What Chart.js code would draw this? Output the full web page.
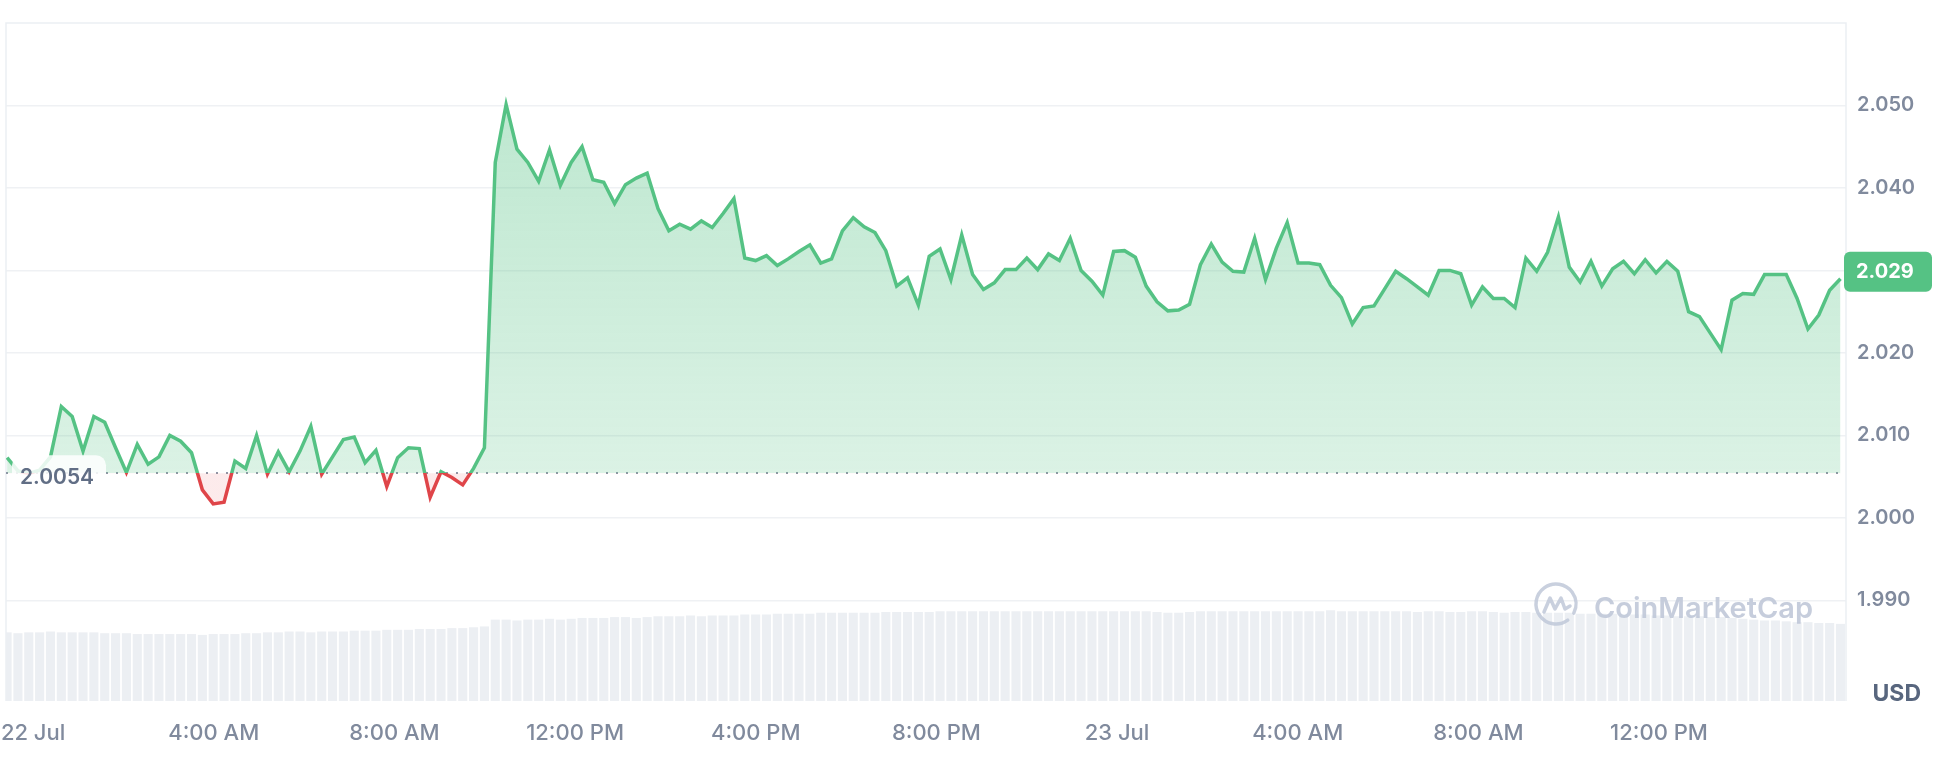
<!DOCTYPE html>
<html>
<head>
<meta charset="utf-8">
<title>Price chart</title>
<script src="https://cdn.jsdelivr.net/npm/chart.js@4.4.0/dist/chart.umd.min.js"></script>
<style>
  body { margin: 0; background: #fff; }
  #wrap { width: 1940px; height: 774px; }
</style>
</head>
<body>
<div id="wrap"><canvas id="priceChart" width="1940" height="774"></canvas></div>
<script>
// price every ~14.4 min, starting a little before 22 Jul 00:00 (hours from 22 Jul 00:00)
const startHour = -0.576;
const stepHours = 0.2402;

const prices = [
  2.0073, 2.0057, 2.0054, 2.0058, 2.0074, 2.0135, 2.0123, 2.0081, 2.0123, 2.0116,
  2.0085, 2.0055, 2.0089, 2.0065, 2.0074, 2.0100, 2.0093, 2.0079, 2.0034, 2.0017,
  2.0019, 2.0069, 2.0060, 2.0100, 2.0053, 2.0080, 2.0056, 2.0081, 2.0111, 2.0053,
  2.0074, 2.0095, 2.0098, 2.0067, 2.0082, 2.0038, 2.0073, 2.0085, 2.0084, 2.0025,
  2.0056, 2.0049, 2.0040, 2.0060, 2.0085,
  2.0431, 2.0501, 2.0447, 2.0431, 2.0408, 2.0446, 2.0403, 2.0431, 2.0450, 2.0410,
  2.0407, 2.0381, 2.0404, 2.0412, 2.0418, 2.0375, 2.0348, 2.0356, 2.0350, 2.0360,
  2.0352, 2.0369, 2.0387, 2.0315, 2.0312, 2.0318, 2.0306, 2.0314, 2.0323, 2.0331,
  2.0309, 2.0314, 2.0348, 2.0364, 2.0353, 2.0346, 2.0324,
  2.0281, 2.0291, 2.0258, 2.0317, 2.0326, 2.0289, 2.0343, 2.0295, 2.0277, 2.0285,
  2.0301, 2.0301, 2.0315, 2.0301, 2.0320, 2.0312, 2.0339, 2.0300, 2.0287, 2.0270,
  2.0323, 2.0324, 2.0316, 2.0281, 2.0262, 2.0251, 2.0252, 2.0259, 2.0307, 2.0332,
  2.0310, 2.0299, 2.0298, 2.0339, 2.0289, 2.0327, 2.0358, 2.0309,
  2.0309, 2.0307, 2.0282, 2.0267, 2.0235, 2.0255, 2.0257, 2.0278, 2.0299, 2.0290,
  2.0280, 2.0270, 2.0300, 2.0300, 2.0296, 2.0258, 2.0280, 2.0266, 2.0266, 2.0255,
  2.0315, 2.0299, 2.0322, 2.0365, 2.0304, 2.0286, 2.0311, 2.0281, 2.0302, 2.0311,
  2.0296, 2.0313, 2.0297, 2.0311, 2.0299, 2.0250, 2.0244, 2.0224, 2.0204, 2.0264,
  2.0272, 2.0271, 2.0295, 2.0295, 2.0295, 2.0266, 2.0229, 2.0246, 2.0276, 2.0290
];

// volume, millions USD
const volumes = [
  8.1, 8.0, 8.1, 8.1, 8.2, 8.1, 8.1, 8.1, 8.1, 8.0,
  8.0, 8.0, 7.9, 7.9, 7.9, 7.9, 7.9, 7.9, 7.8, 7.9,
  7.9, 7.9, 8.0, 8.0, 8.1, 8.1, 8.2, 8.2, 8.1, 8.2,
  8.2, 8.2, 8.3, 8.3, 8.3, 8.4, 8.4, 8.4, 8.5, 8.5,
  8.5, 8.6, 8.6, 8.7, 8.8, 9.6, 9.6, 9.5, 9.6, 9.6,
  9.7, 9.6, 9.7, 9.8, 9.8, 9.8, 9.9, 9.9, 9.8, 9.9,
  10.0, 10.0, 10.0, 10.1, 10.0, 10.1, 10.1, 10.1, 10.2, 10.2,
  10.2, 10.3, 10.3, 10.3, 10.3, 10.4, 10.4, 10.4, 10.4, 10.4,
  10.4, 10.5, 10.5, 10.5, 10.5, 10.5, 10.6, 10.6, 10.6, 10.6,
  10.6, 10.6, 10.6, 10.6, 10.6, 10.6, 10.6, 10.6, 10.6, 10.6,
  10.6, 10.6, 10.6, 10.6, 10.6, 10.6, 10.5, 10.4, 10.4, 10.5,
  10.6, 10.6, 10.6, 10.6, 10.6, 10.6, 10.6, 10.6, 10.6, 10.6,
  10.6, 10.6, 10.7, 10.6, 10.6, 10.6, 10.6, 10.6, 10.6, 10.6,
  10.5, 10.6, 10.6, 10.5, 10.5, 10.6, 10.6, 10.5, 10.4, 10.5,
  10.5, 10.4, 10.4, 10.4, 10.4, 10.3, 10.3, 10.3, 10.3, 10.2,
  10.2, 10.2, 10.1, 10.1, 10.0, 10.0, 10.0, 9.9, 9.9, 9.8,
  9.7, 9.6, 9.5, 9.5, 9.4, 9.3, 9.3, 9.2, 9.2, 9.1
];

const openPrice = 2.0054;
const yTicks = [1.99, 2.00, 2.01, 2.02, 2.03, 2.04, 2.05];
const xTickHours = [0, 4, 8, 12, 16, 20, 24, 28, 32, 36];
const xTickLabels = ['22 Jul', '4:00 AM', '8:00 AM', '12:00 PM', '4:00 PM', '8:00 PM', '23 Jul', '4:00 AM', '8:00 AM', '12:00 PM'];

const green = '#55c284';
const red = '#df4549';
const labelGray = '#808a9d';

const times = prices.map((_, i) => startHour + i * stepHours);
const pricePoints = prices.map((p, i) => ({ x: times[i], y: p }));
const volumePoints = volumes.map((v, i) => ({ x: times[i], y: v }));
const lastPrice = prices[prices.length - 1];

function splitStroke(context) {
    const chart = context.chart;
    const area = chart.chartArea;
    if (!area) return green;
    const y = chart.scales.y.getPixelForValue(openPrice);
    const stop = (y - area.top) / (area.bottom - area.top);
    const g = chart.ctx.createLinearGradient(0, area.top, 0, area.bottom);
    g.addColorStop(0, green);
    g.addColorStop(stop, green);
    g.addColorStop(stop, red);
    g.addColorStop(1, red);
    return g;
}

function splitFill(context) {
    const chart = context.chart;
    const area = chart.chartArea;
    if (!area) return 'rgba(88,196,134,0.25)';
    const y = chart.scales.y.getPixelForValue(openPrice);
    const stop = (y - area.top) / (area.bottom - area.top);
    const g = chart.ctx.createLinearGradient(0, area.top, 0, area.bottom);
    g.addColorStop(0, 'rgba(85,194,132,0.42)');
    g.addColorStop(stop, 'rgba(85,194,132,0.21)');
    g.addColorStop(stop, 'rgba(232,70,76,0.11)');
    g.addColorStop(1, 'rgba(232,70,76,0.11)');
    return g;
}

function roundRect(ctx, x, y, w, h, r) {
    ctx.beginPath();
    ctx.moveTo(x + r, y);
    ctx.arcTo(x + w, y, x + w, y + h, r);
    ctx.arcTo(x + w, y + h, x, y + h, r);
    ctx.arcTo(x, y + h, x, y, r);
    ctx.arcTo(x, y, x + w, y, r);
    ctx.closePath();
}

// frame, dotted open-price line, labels and watermark
const decorations = {
    id: 'decorations',
    beforeDatasetsDraw(chart) {
        const { ctx, chartArea: a, scales } = chart;
        ctx.save();
        ctx.strokeStyle = '#eceff3';
        ctx.lineWidth = 1.5;
        ctx.beginPath();
        ctx.moveTo(a.left, a.bottom);
        ctx.lineTo(a.left, a.top);
        ctx.lineTo(a.right, a.top);
        ctx.lineTo(a.right, a.bottom);
        ctx.stroke();

        const y = Math.round(scales.y.getPixelForValue(openPrice));
        ctx.setLineDash([2, 8]);
        ctx.strokeStyle = '#8f97a6';
        ctx.lineWidth = 2;
        ctx.beginPath();
        ctx.moveTo(a.left, y);
        ctx.lineTo(a.right, y);
        ctx.stroke();
        ctx.restore();
    },
    afterDatasetsDraw(chart) {
        const { ctx, chartArea: a, scales } = chart;
        ctx.save();

        // watermark
        const cx = 1556, cy = 604, r = 20;
        ctx.strokeStyle = 'rgba(192,200,216,0.85)';
        ctx.lineWidth = 3.5;
        ctx.lineCap = 'round';
        ctx.lineJoin = 'round';
        ctx.beginPath();
        ctx.arc(cx, cy, r, 0.3 * Math.PI, 2.15 * Math.PI);
        ctx.stroke();
        ctx.beginPath();
        ctx.moveTo(cx - 12, cy + 8);
        ctx.lineTo(cx - 6, cy - 6);
        ctx.lineTo(cx - 1, cy + 5);
        ctx.lineTo(cx + 5, cy - 6);
        ctx.lineTo(cx + 9, cy + 5);
        ctx.lineTo(cx + 14, cy + 2);
        ctx.stroke();
        ctx.fillStyle = 'rgba(192,200,216,0.9)';
        ctx.font = '600 29px Inter';
        ctx.textAlign = 'left';
        ctx.textBaseline = 'alphabetic';
        ctx.fillText('CoinMarketCap', 1594, 618);

        // open price label
        const yo = scales.y.getPixelForValue(openPrice);
        ctx.fillStyle = 'rgba(255,255,255,0.85)';
        roundRect(ctx, 12, yo - 18, 94, 38, 10);
        ctx.fill();
        ctx.fillStyle = '#616e85';
        ctx.font = '600 21px Inter';
        ctx.textBaseline = 'middle';
        ctx.fillText(openPrice.toFixed(4), 20, yo + 4);

        // last price badge
        const yl = scales.y.getPixelForValue(lastPrice);
        ctx.fillStyle = green;
        roundRect(ctx, a.right - 2, yl - 27, 88, 40, 6);
        ctx.fill();
        ctx.fillStyle = '#ffffff';
        ctx.font = '700 20px Inter';
        ctx.fillText(lastPrice.toFixed(3), a.right + 10, yl - 7);

        // currency unit
        ctx.fillStyle = '#58667e';
        ctx.font = '700 23px Inter';
        ctx.textAlign = 'right';
        ctx.fillText('USD', 1921, 694);
        ctx.restore();
    }
};

const ctx = document.getElementById('priceChart').getContext('2d');
new Chart(ctx, {
    type: 'line',
    data: {
        datasets: [{
            type: 'line',
            label: 'Price',
            data: pricePoints,
            yAxisID: 'y',
            borderColor: splitStroke,
            backgroundColor: splitFill,
            borderWidth: 3.5,
            pointRadius: 0,
            tension: 0,
            fill: { target: { value: openPrice } },
            order: 1
        }, {
            type: 'bar',
            label: 'Volume',
            data: volumePoints,
            yAxisID: 'yv',
            backgroundColor: '#eceff3',
            barPercentage: 0.84,
            categoryPercentage: 1,
            order: 2
        }]
    },
    options: {
        responsive: false,
        animation: false,
        events: [],
        layout: { autoPadding: false, padding: { left: 6, top: 17, right: 0, bottom: 0 } },
        plugins: { legend: { display: false }, tooltip: { enabled: false } },
        scales: {
            x: {
                type: 'linear',
                min: -0.6,
                max: 40.14,
                offset: false,
                afterBuildTicks: s => { s.ticks = xTickHours.map(v => ({ value: v })); },
                afterFit: s => { s.height = 73; s.paddingLeft = 0; s.paddingRight = 0; },
                grid: { display: false, drawTicks: false },
                border: { display: false },
                ticks: {
                    autoSkip: false,
                    maxRotation: 0,
                    padding: 19,
                    color: labelGray,
                    font: { family: 'Inter', size: 22, weight: '500' },
                    callback: v => xTickLabels[xTickHours.indexOf(v)] || ''
                }
            },
            y: {
                position: 'right',
                min: 1.9778,
                max: 2.060,
                afterBuildTicks: s => { s.ticks = yTicks.map(v => ({ value: v })); },
                afterFit: s => { s.width = 94; },
                grid: { color: '#eff1f4', lineWidth: 1.5, drawTicks: false },
                border: { display: false },
                ticks: {
                    padding: 11,
                    color: labelGray,
                    font: { family: 'Inter', size: 20, weight: '600' },
                    callback: v => v.toFixed(3)
                }
            },
            yv: { display: false, min: 0, max: 80 }
        }
    },
    plugins: [decorations]
});
</script>
</body>
</html>
